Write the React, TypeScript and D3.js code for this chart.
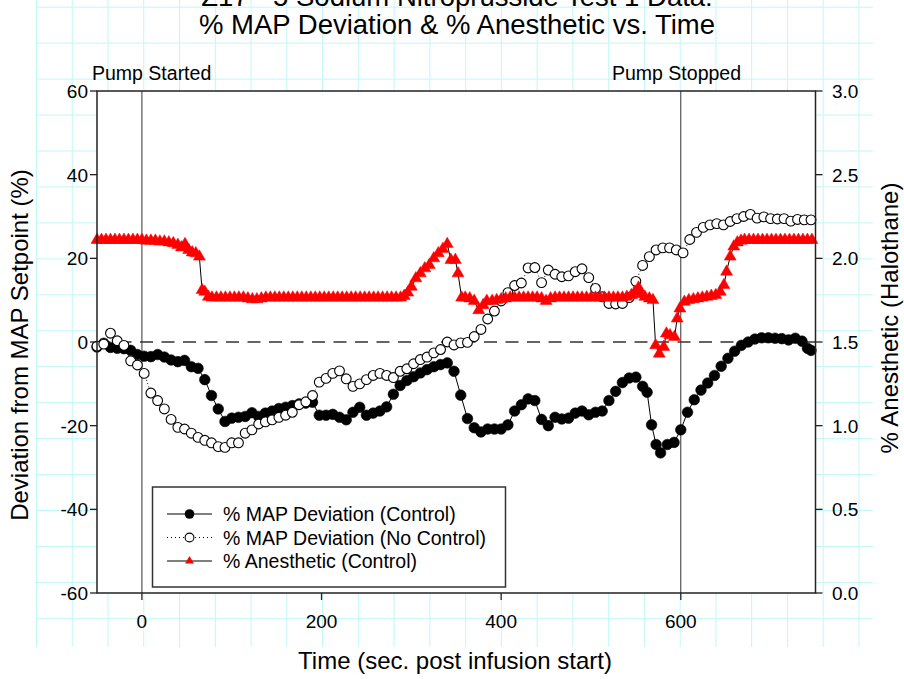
import React from 'react';
import * as d3 from 'd3';

const titleLines = ['Z17 - 5 Sodium Nitroprusside Test 1 Data:', '% MAP Deviation & % Anesthetic vs. Time'];
const xTicks = [0, 200, 400, 600];
const yLeftTicks = [-60, -40, -20, 0, 20, 40, 60];
const yRightTicks = [0, 0.5, 1, 1.5, 2, 2.5, 3];
const eventTimes = [0, 600];
const eventLabels = ['Pump Started', 'Pump Stopped'];
const seriesNames = ['% MAP Deviation (Control)', '% MAP Deviation (No Control)', '% Anesthetic (Control)'];
const xTitle = 'Time (sec. post infusion start)';
const yLeftTitle = 'Deviation from MAP Setpoint (%)';
const yRightTitle = '% Anesthetic (Halothane)';

// [time (s), % MAP deviation]
const mapControl: [number, number][] = [
  [-50,-1.2],[-42.5,-0.3],[-35,-1.3],[-27.5,-1.5],[-20,-1.6],[-12.5,-2.0],[-5,-3.0],[2.5,-3.4],[10,-3.5],[17.5,-3.0],
  [25,-3.6],[32.5,-4.3],[40,-4.7],[47.5,-4.4],[55,-5.9],[62.5,-6.3],[70,-9.0],[77.5,-12.8],[85,-16.0],[92.5,-19.0],
  [100,-18.2],[107.5,-18.0],[115,-17.8],[122.5,-16.9],[130,-17.8],[137.5,-17.0],[145,-16.5],[152.5,-15.9],[160,-15.6],[167.5,-15.2],
  [175,-14.8],[182.5,-14.6],[190,-14.4],[197.5,-17.5],[205,-17.5],[212.5,-17.3],[220,-18.0],[227.5,-18.6],[235,-16.8],[242.5,-15.6],
  [250,-17.5],[257.5,-17.0],[265,-16.5],[272.5,-15.5],[280,-12.5],[287.5,-10.4],[295,-9.2],[302.5,-8.3],[310,-7.4],[317.5,-6.6],
  [325,-5.9],[332.5,-5.4],[340,-5.0],[347.5,-7.0],[355,-12.7],[362.5,-18.3],[370,-20.5],[377.5,-21.5],[385,-20.8],[392.5,-20.8],
  [400,-20.8],[407.5,-19.8],[415,-16.5],[422.5,-15.0],[430,-13.6],[437.5,-14.0],[445,-18.5],[452.5,-20.0],[460,-18.0],[467.5,-18.4],
  [475,-18.2],[482.5,-17.0],[490,-16.5],[497.5,-17.4],[505,-16.8],[512.5,-16.5],[520,-14.0],[527.5,-11.8],[535,-9.7],[542.5,-8.6],
  [550,-8.4],[557.5,-10.6],[562.5,-12.0],[567.5,-19.8],[572.5,-24.5],[577.5,-26.5],[585,-24.5],[592.5,-24.0],[600,-21.0],[607.5,-16.8],
  [615,-13.8],[622.5,-11.5],[630,-9.8],[637.5,-8.0],[645,-5.8],[652.5,-3.9],[660,-2.2],[667.5,-0.8],[675,0.0],[682.5,0.7],
  [690,1.0],[697.5,1.0],[705,0.9],[712.5,0.8],[720,0.5],[727.5,0.9],[735,0.2],[741,-1.5],[745,-2.0]
];

// [time (s), % MAP deviation]
const mapNoControl: [number, number][] = [
  [-50,-1.0],[-42.5,-0.5],[-35,2.1],[-27.5,0.3],[-20,-0.8],[-12.5,-4.5],[-5,-5.5],[2.5,-7.5],[10,-12.2],[17.5,-14.0],
  [25,-16.0],[32.5,-18.5],[40,-20.4],[47.5,-20.8],[55,-21.8],[62.5,-22.8],[70,-23.5],[77.5,-24.1],[85,-25.0],[92.5,-25.2],
  [100,-24.1],[107.5,-24.1],[115,-21.8],[122.5,-21.0],[130,-19.6],[137.5,-19.1],[145,-18.6],[152.5,-18.0],[160,-17.5],[167.5,-16.8],
  [175,-15.0],[182.5,-14.3],[190,-12.8],[197.5,-9.6],[205,-8.7],[212.5,-7.5],[220,-6.9],[227.5,-8.8],[235,-10.6],[242.5,-10.0],
  [250,-9.0],[257.5,-8.0],[265,-7.5],[272.5,-8.0],[280,-8.5],[287.5,-7.0],[295,-6.4],[302.5,-5.2],[310,-4.2],[317.5,-3.6],
  [325,-2.6],[332.5,-1.8],[340,0.0],[347.5,-0.7],[355,-0.2],[362.5,-0.1],[370,1.3],[377.5,3.0],[385,5.5],[392.5,7.4],
  [400,9.8],[407.5,11.8],[415,13.5],[422.5,14.1],[430,17.7],[437.5,17.8],[445,14.2],[452.5,17.2],[460,16.2],[467.5,15.6],
  [475,15.8],[482.5,16.8],[490,17.5],[497.5,15.4],[505,12.8],[512.5,10.8],[520,9.2],[527.5,9.1],[535,9.2],[542.5,10.6],
  [550,14.5],[557.5,18.3],[565,20.4],[572.5,22.0],[580,22.5],[587.5,22.5],[595,22.0],[602.5,21.3],[610,24.5],[617.5,26.2],
  [625,27.4],[632.5,28.0],[640,28.3],[647.5,28.0],[655,28.8],[662.5,29.5],[670,30.0],[677.5,30.5],[685,29.6],[692.5,29.9],
  [700,29.5],[707.5,29.4],[715,29.5],[722.5,28.9],[730,29.3],[737.5,29.2],[745,29.2]
];

// [time (s), % halothane]
const anesthetic: [number, number][] = [
  [-50,2.11],[-45,2.11],[-40,2.11],[-35,2.11],[-30,2.11],[-25,2.11],[-20,2.11],[-15,2.11],[-10,2.11],[-5,2.11],
  [0,2.11],[5,2.105],[10,2.105],[15,2.105],[20,2.10],[25,2.10],[30,2.095],[35,2.09],[40,2.08],[44,2.065],
  [48,2.085],[52,2.05],[56,2.035],[60,2.03],[64,2.01],[67,1.81],[70,1.80],[74,1.77],[78,1.765],[83,1.765],
  [88,1.765],[93,1.765],[98,1.765],[103,1.765],[108,1.765],[113,1.765],[118,1.76],[123,1.755],[128,1.755],[133,1.76],
  [138,1.765],[143,1.765],[148,1.765],[153,1.765],[158,1.765],[163,1.765],[168,1.765],[173,1.765],[178,1.765],[183,1.765],
  [188,1.765],[193,1.765],[198,1.765],[203,1.765],[208,1.765],[213,1.765],[218,1.765],[223,1.765],[228,1.765],[233,1.765],
  [238,1.765],[243,1.765],[248,1.765],[253,1.765],[258,1.765],[263,1.765],[268,1.765],[273,1.765],[278,1.765],[283,1.765],
  [288,1.765],[292,1.775],[296,1.795],[300,1.83],[305,1.88],[310,1.91],[315,1.94],[320,1.96],[325,2.00],[330,2.03],
  [335,2.055],[340,2.085],[344,1.99],[349,1.99],[352,1.91],[356,1.765],[360,1.765],[365,1.76],[370,1.745],[375,1.69],
  [380,1.72],[384,1.745],[390,1.745],[395,1.75],[400,1.755],[405,1.76],[410,1.765],[415,1.765],[420,1.765],[425,1.765],
  [430,1.765],[435,1.765],[440,1.765],[445,1.76],[450,1.745],[455,1.76],[460,1.765],[465,1.765],[470,1.765],[475,1.765],
  [480,1.765],[485,1.765],[490,1.765],[495,1.765],[500,1.765],[505,1.765],[510,1.765],[515,1.765],[520,1.765],[525,1.765],
  [530,1.765],[535,1.765],[540,1.77],[545,1.78],[549,1.80],[553,1.825],[556,1.785],[560,1.77],[565,1.76],[569,1.75],
  [572,1.48],[576,1.43],[581,1.47],[584,1.55],[588,1.54],[593,1.53],[596,1.64],[599,1.70],[604,1.74],[609,1.75],
  [614,1.755],[619,1.76],[624,1.765],[629,1.77],[634,1.775],[639,1.78],[644,1.80],[648,1.84],[651,1.92],[655,2.01],
  [659,2.07],[663,2.095],[667,2.105],[671,2.11],[676,2.11],[681,2.11],[686,2.11],[691,2.11],[696,2.11],[701,2.11],
  [706,2.11],[711,2.11],[716,2.11],[721,2.11],[726,2.11],[731,2.11],[736,2.11],[741,2.11],[746,2.11]
];

const FONT = '"Liberation Sans", Arial, Helvetica, sans-serif';

export default function App() {
  const W = 904, H = 679;
  const left = 97, right = 815.5, top = 91, bottom = 593;
  const x = d3.scaleLinear().domain([-50, 750]).range([left, right]);
  const yL = d3.scaleLinear().domain([-60, 60]).range([bottom, top]);
  const yR = d3.scaleLinear().domain([0, 3]).range([bottom, top]);

  const lineL = d3.line<[number, number]>().x(d => x(d[0])).y(d => yL(d[1]));
  const lineR = d3.line<[number, number]>().x(d => x(d[0])).y(d => yR(d[1]));
  const tri = d3.symbol().type(d3.symbolTriangle).size(62)() as string;
  const triLegend = d3.symbol().type(d3.symbolTriangle).size(34)() as string;

  // background graph-paper grid (decoration)
  const gridX = d3.range(0, 24).map(k => 36.5 + k * 35.76);
  const gridY = d3.range(0, 18).map(k => 7.2 + k * 35.95);
  const gridColor = '#c2f7f7';

  const legendX = 152.5, legendY = 487, legendW = 353, legendH = 100;
  const legendRows = [514, 537.5, 561];

  return (
    <svg width={W} height={H} style={{ position: 'absolute', left: 0, top: 0, background: '#fff' }} fontFamily={FONT}>
      <rect x={0} y={0} width={W} height={H} fill="#fff" />
      <g stroke={gridColor} strokeWidth={1}>
        {gridX.map((gx, i) => <line key={'gx' + i} x1={gx} x2={gx} y1={0} y2={647} />)}
        {gridY.map((gy, i) => <line key={'gy' + i} x1={36.5} x2={873} y1={gy} y2={gy} />)}
      </g>
      <rect x={left} y={top} width={right - left} height={bottom - top} fill="#fff" />

      {/* title */}
      {titleLines.map((t, i) => (
        <text key={'t' + i} x={457} y={i === 0 ? 6 : 34} textAnchor="middle" fontSize={27.5} fill="#000">{t}</text>
      ))}

      {/* event lines */}
      {eventTimes.map((t, i) => (
        <line key={'ev' + i} x1={x(t)} x2={x(t)} y1={top} y2={bottom} stroke="#333" strokeWidth={1} />
      ))}
      <text x={92} y={80} fontSize={19.5}>{eventLabels[0]}</text>
      <text x={612} y={80} fontSize={19.5}>{eventLabels[1]}</text>

      {/* zero reference */}
      <line x1={left} x2={right} y1={yL(0)} y2={yL(0)} stroke="#333" strokeWidth={1.5} strokeDasharray="13,8.5" />

      {/* series: MAP control */}
      <path d={lineL(mapControl) || ''} fill="none" stroke="#000" strokeWidth={1} />
      {mapControl.map((d, i) => (
        <circle key={'c' + i} cx={x(d[0])} cy={yL(d[1])} r={5.3} fill="#000" stroke="#000" strokeWidth={0.6} />
      ))}
      {/* series: MAP no control */}
      <path d={lineL(mapNoControl) || ''} fill="none" stroke="#000" strokeWidth={1} strokeDasharray="1,2.5" />
      {mapNoControl.map((d, i) => (
        <circle key={'n' + i} cx={x(d[0])} cy={yL(d[1])} r={4.9} fill="#fff" stroke="#000" strokeWidth={1.1} />
      ))}
      {/* series: anesthetic */}
      <path d={lineR(anesthetic) || ''} fill="none" stroke="#000" strokeWidth={1} />
      {anesthetic.map((d, i) => (
        <path key={'a' + i} d={tri} transform={`translate(${x(d[0])},${yR(d[1])})`} fill="#ff0000" stroke="#ff0000" strokeWidth={0.5} />
      ))}

      {/* frame */}
      <rect x={left} y={top} width={right - left} height={bottom - top} fill="none" stroke="#222" strokeWidth={1.5} />

      {/* left axis */}
      {yLeftTicks.map(v => (
        <g key={'yl' + v}>
          <line x1={left - 7} x2={left} y1={yL(v)} y2={yL(v)} stroke="#222" strokeWidth={1.3} />
          <text x={88} y={yL(v)} dy="0.36em" textAnchor="end" fontSize={19}>{v}</text>
        </g>
      ))}
      {/* right axis */}
      {yRightTicks.map(v => (
        <g key={'yr' + v}>
          <line x1={right} x2={right + 7} y1={yR(v)} y2={yR(v)} stroke="#222" strokeWidth={1.3} />
          <text x={832} y={yR(v)} dy="0.36em" textAnchor="start" fontSize={19}>{d3.format('.1f')(v)}</text>
        </g>
      ))}
      {/* bottom axis */}
      {xTicks.map(v => (
        <g key={'xt' + v}>
          <line x1={x(v)} x2={x(v)} y1={bottom} y2={bottom + 7} stroke="#222" strokeWidth={1.3} />
          <text x={x(v)} y={628} textAnchor="middle" fontSize={19}>{v}</text>
        </g>
      ))}

      {/* axis titles */}
      <text x={455} y={669} textAnchor="middle" fontSize={24}>{xTitle}</text>
      <text transform="translate(28,345) rotate(-90)" textAnchor="middle" fontSize={24}>{yLeftTitle}</text>
      <text transform="translate(898,318) rotate(-90)" textAnchor="middle" fontSize={24}>{yRightTitle}</text>

      {/* legend */}
      <rect x={legendX} y={legendY} width={legendW} height={legendH} fill="#fff" stroke="#333" strokeWidth={1.5} />
      {seriesNames.map((name, i) => {
        const ly = legendRows[i];
        return (
          <g key={'lg' + i}>
            <line x1={167} x2={212} y1={ly} y2={ly} stroke="#000" strokeWidth={1.2} strokeDasharray={i === 1 ? '1,3' : undefined} />
            {i === 0 && <circle cx={189.5} cy={ly} r={4.8} fill="#000" />}
            {i === 1 && <circle cx={189.5} cy={ly} r={4.4} fill="#fff" stroke="#000" strokeWidth={1.1} />}
            {i === 2 && <path d={triLegend} transform={`translate(189.5,${ly})`} fill="#ff0000" />}
            <text x={223} y={ly} dy="0.36em" fontSize={19.5}>{name}</text>
          </g>
        );
      })}
    </svg>
  );
}
